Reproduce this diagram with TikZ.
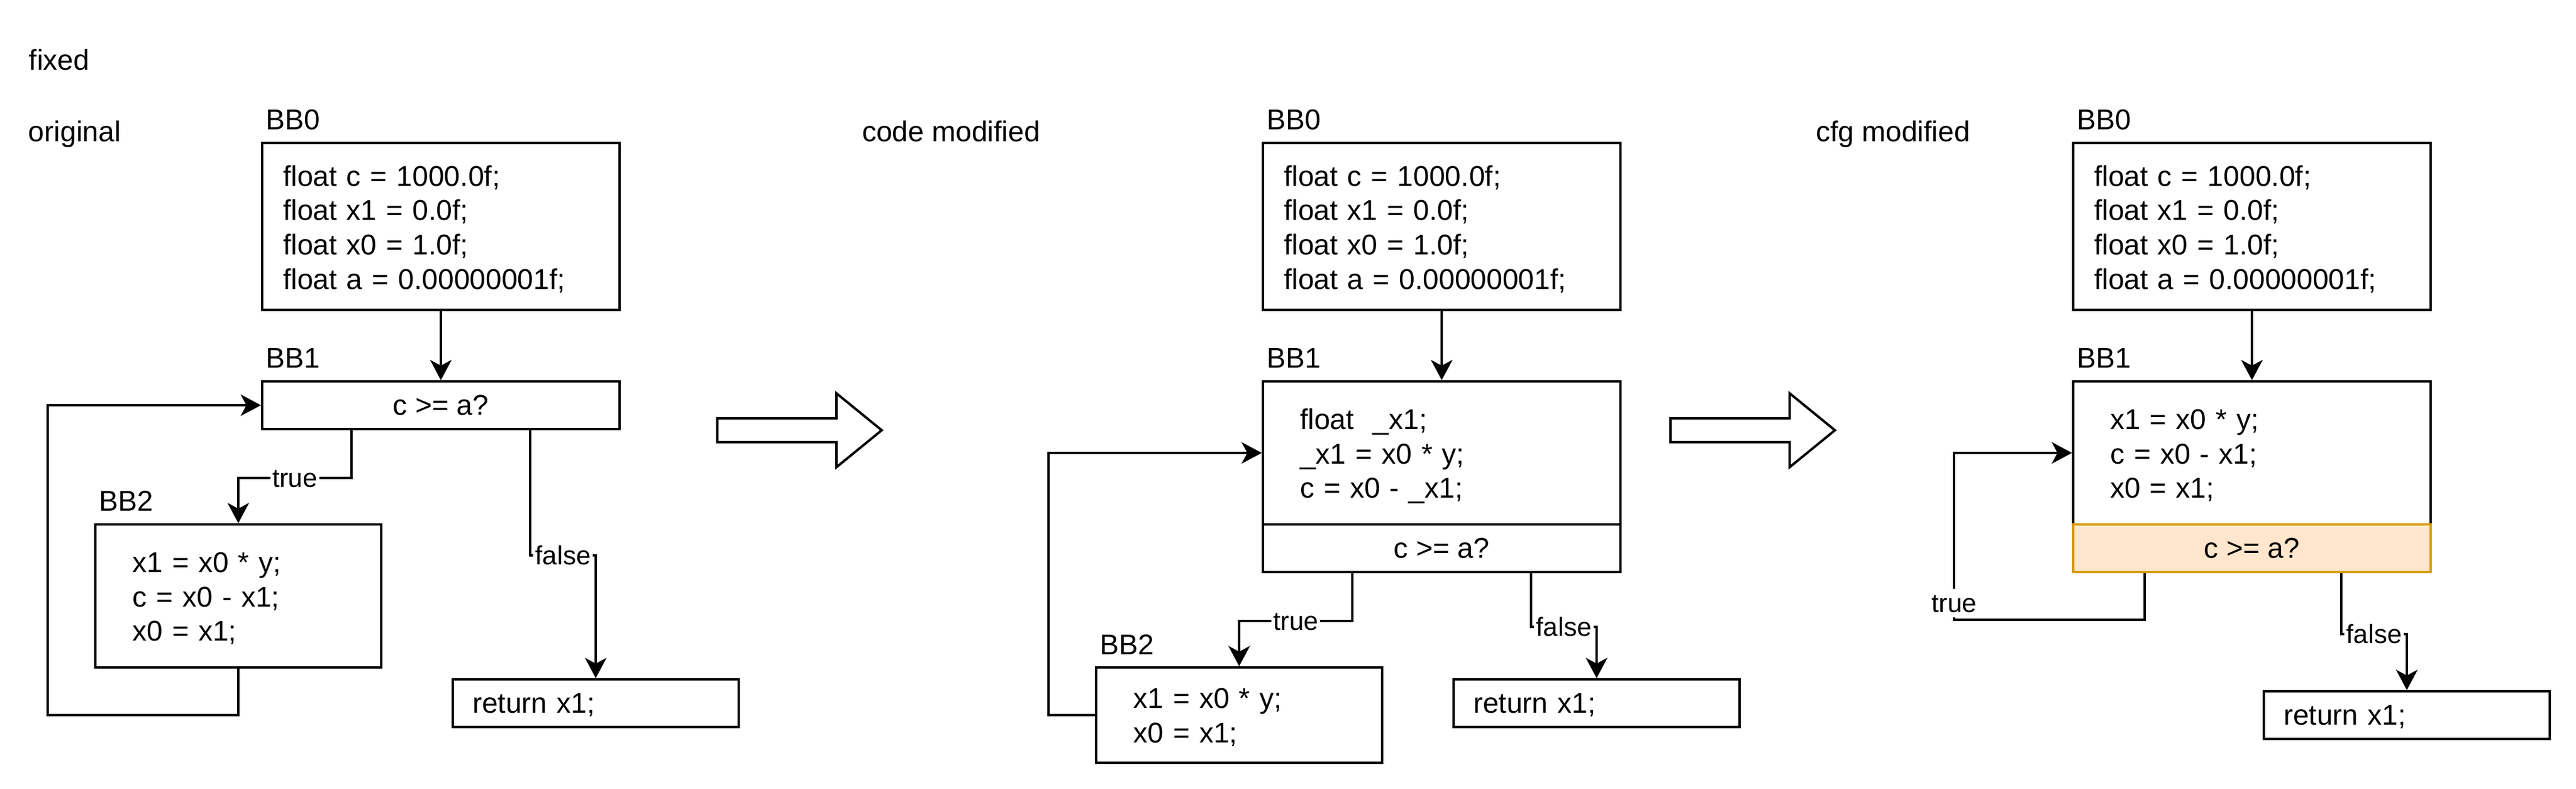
\documentclass[tikz,border=0pt]{standalone}
\usepackage{fontspec}
\setmainfont{Liberation Sans}
\usetikzlibrary{arrows.meta}
\definecolor{ofill}{HTML}{FFE6CC}
\definecolor{ostroke}{HTML}{D79B00}
\tikzset{
  blk/.style={draw, line width=1pt, inner sep=0pt},
  cond/.style={blk, fill=ofill, draw=ostroke},
  code/.style={anchor=base west, inner sep=0pt, align=left, text width=145pt,
    font=\fontsize{12}{14.4}\selectfont},
  ctext/.style={anchor=base, inner sep=0pt, font=\fontsize{12}{14.4}\selectfont},
  lbl/.style={anchor=base west, inner sep=0pt, font=\fontsize{12}{14.4}\selectfont},
  elabel/.style={fill=white, inner sep=0pt, inner xsep=0.8pt, text height=9.9pt, text depth=2.3pt,
    font=\fontsize{11}{13.2}\selectfont},
  edge/.style={line width=1pt, -{Stealth[length=8.5pt,width=9pt,inset=2.4pt]}},
  plain/.style={line width=1pt},
  bigarrow/.style={draw, line width=1pt, line join=miter, fill=white},
}
\begin{document}
\begin{tikzpicture}[x=1pt, y=-1pt]
\useasboundingbox (0,0) rectangle (1081,331);

% ---------- titles ----------
\node[lbl] (tfixed) at (12,29.4) {fixed};
\node[lbl] (torig) at (11.8,59.3) {original};
\node[lbl] (tcode) at (361.6,59.3) {code modified};
\node[lbl] (tcfg) at (761.8,59.3) {cfg modified};

% ---------- left column (original) ----------
\node[blk, minimum width=150pt, minimum height=70pt] (lzero) at (185,95) {};
\node[lbl] (lzerolbl) at (111.5,54.5) {BB0};
\node[code] (lzerotxt) at (118.6,78.1) {float c = 1000.0f;\\float x1 = 0.0f;\\float x0 = 1.0f;\\float a = 0.00000001f;};

\node[blk, minimum width=150pt, minimum height=20pt] (lone) at (185,170) {};
\node[lbl] (lonelbl) at (111.5,154.5) {BB1};
\node[ctext] (lonetxt) at (185,174.2) {c >= a?};

\node[blk, minimum width=120pt, minimum height=60pt] (ltwo) at (100,250) {};
\node[lbl] (ltwolbl) at (41.5,214.5) {BB2};
\node[code] (ltwotxt) at (55.4,240.1) {x1 = x0 * y;\\c = x0 - x1;\\x0 = x1;};

\node[blk, minimum width=120pt, minimum height=20pt] (lret) at (250,295) {};
\node[code] (lrettxt) at (198.1,299.2) {return x1;};

\draw[edge] (lzero.south) -- (lone.north);
\draw[edge] ([xshift=38pt]lone.south west) -- ++(0,20) -| (ltwo.north)
  node[elabel, pos=0.25] (ltruelbl) {true};
\draw[edge] ([xshift=113pt]lone.south west) -- ++(0,52.6) -| (lret.north)
  node[elabel, pos=0.25] (lfalselbl) {false};
\coordinate (lloop) at (20,300);
\draw[edge] (ltwo.south) |- (lloop) |- (lone.west);

% ---------- big arrows ----------
\draw[bigarrow] (301,175.5) -- (351,175.5) -- (351,165) -- (370,180.5) -- (351,196) -- (351,185.5) -- (301,185.5) -- cycle;
\draw[bigarrow] (701,175.5) -- (751,175.5) -- (751,165) -- (770,180.5) -- (751,196) -- (751,185.5) -- (701,185.5) -- cycle;

% ---------- middle column (code modified) ----------
\node[blk, minimum width=150pt, minimum height=70pt] (mzero) at (605,95) {};
\node[lbl] (mzerolbl) at (531.5,54.5) {BB0};
\node[code] (mzerotxt) at (538.6,78.1) {float c = 1000.0f;\\float x1 = 0.0f;\\float x0 = 1.0f;\\float a = 0.00000001f;};

\node[blk, minimum width=150pt, minimum height=60pt] (mtop) at (605,190) {};
\node[lbl] (monelbl) at (531.5,154.5) {BB1};
\node[code] (mtoptxt) at (545.3,180.2) {float\ \ \_x1;\\\_x1 = x0 * y;\\c = x0 - \_x1;};
\node[blk, minimum width=150pt, minimum height=20pt] (mcond) at (605,230) {};
\node[ctext] (mcondtxt) at (605,234.2) {c >= a?};

\node[blk, minimum width=120pt, minimum height=40pt] (mtwo) at (520,300) {};
\node[lbl] (mtwolbl) at (461.5,274.5) {BB2};
\node[code] (mtwotxt) at (475.4,297.1) {x1 = x0 * y;\\x0 = x1;};

\node[blk, minimum width=120pt, minimum height=20pt] (mret) at (670,295) {};
\node[code] (mrettxt) at (618.1,299.2) {return x1;};

\draw[edge] (mzero.south) -- (mtop.north);
\draw[edge] ([xshift=38pt]mcond.south west) -- ++(0,20) -| (mtwo.north)
  node[elabel, pos=0.25] (mtruelbl) {true};
\draw[edge] ([xshift=113pt]mcond.south west) -- ++(0,22.5) -| (mret.north)
  node[elabel, pos=0.25] (mfalselbl) {false};
\coordinate (mloop) at (440,300);
\draw[edge] (mtwo.west) -- (mloop) |- (mtop.west);

% ---------- right column (cfg modified) ----------
\node[blk, minimum width=150pt, minimum height=70pt] (rzero) at (945,95) {};
\node[lbl] (rzerolbl) at (871.5,54.5) {BB0};
\node[code] (rzerotxt) at (878.6,78.1) {float c = 1000.0f;\\float x1 = 0.0f;\\float x0 = 1.0f;\\float a = 0.00000001f;};

\node[blk, minimum width=150pt, minimum height=60pt] (rtop) at (945,190) {};
\node[lbl] (ronelbl) at (871.5,154.5) {BB1};
\node[code] (rtoptxt) at (885.3,180.2) {x1 = x0 * y;\\c = x0 - x1;\\x0 = x1;};
\node[cond, minimum width=150pt, minimum height=20pt] (rcond) at (945,230) {};
\node[ctext] (rcondtxt) at (945,234.2) {c >= a?};

\node[blk, minimum width=120pt, minimum height=20pt] (rret) at (1010,300) {};
\node[code] (rrettxt) at (958.1,304.2) {return x1;};

\draw[edge] (rzero.south) -- (rtop.north);
\coordinate (rloop) at (820,260);
\draw[edge] ([xshift=30.5pt]rcond.south west) |- (rloop) |- (rtop.west);
\node[elabel] (rtruelbl) at (820,253) {true};
\draw[edge] ([xshift=113pt]rcond.south west) -- ++(0,25.6) -| (rret.north)
  node[elabel, pos=0.25] (rfalselbl) {false};
\end{tikzpicture}
\end{document}
